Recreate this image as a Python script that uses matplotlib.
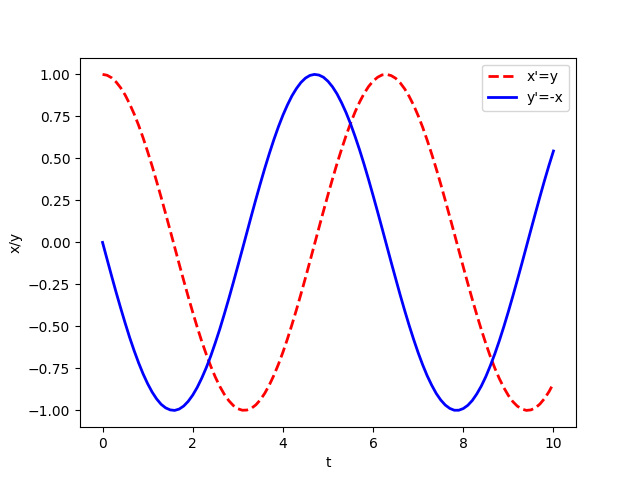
import matplotlib
matplotlib.use("Agg")
import matplotlib.pyplot as plt

# time samples read along the x axis (0 to 10, step 0.1)
t = [round(0.1 * k, 1) for k in range(101)]

# red dashed curve (x'=y)
x_vals = [1.000, 0.995, 0.980, 0.955, 0.921, 0.878, 0.825, 0.765, 0.697, 0.622,
          0.540, 0.454, 0.362, 0.268, 0.170, 0.071, -0.029, -0.129, -0.227, -0.323,
          -0.416, -0.505, -0.589, -0.666, -0.737, -0.801, -0.857, -0.904, -0.942, -0.971,
          -0.990, -0.999, -0.998, -0.988, -0.967, -0.937, -0.897, -0.848, -0.791, -0.726,
          -0.654, -0.575, -0.490, -0.401, -0.307, -0.211, -0.112, -0.012, 0.088, 0.187,
          0.284, 0.378, 0.469, 0.554, 0.635, 0.709, 0.776, 0.835, 0.886, 0.928,
          0.960, 0.983, 0.997, 1.000, 0.993, 0.977, 0.950, 0.914, 0.869, 0.816,
          0.754, 0.685, 0.608, 0.526, 0.439, 0.347, 0.251, 0.153, 0.054, -0.046,
          -0.146, -0.244, -0.339, -0.431, -0.519, -0.602, -0.679, -0.749, -0.811, -0.865,
          -0.911, -0.948, -0.975, -0.992, -1.000, -0.997, -0.985, -0.962, -0.930, -0.889,
          -0.839]

# blue solid curve (y'=-x)
y_vals = [0.000, -0.100, -0.199, -0.296, -0.389, -0.479, -0.565, -0.644, -0.717, -0.783,
          -0.841, -0.891, -0.932, -0.964, -0.985, -0.997, -1.000, -0.992, -0.974, -0.946,
          -0.909, -0.863, -0.808, -0.746, -0.676, -0.598, -0.516, -0.427, -0.335, -0.239,
          -0.141, -0.042, 0.058, 0.158, 0.256, 0.351, 0.443, 0.530, 0.612, 0.688,
          0.757, 0.818, 0.872, 0.916, 0.952, 0.978, 0.994, 1.000, 0.996, 0.983,
          0.959, 0.926, 0.884, 0.832, 0.773, 0.706, 0.631, 0.551, 0.465, 0.374,
          0.279, 0.182, 0.083, -0.017, -0.117, -0.215, -0.312, -0.405, -0.494, -0.578,
          -0.657, -0.729, -0.794, -0.850, -0.899, -0.938, -0.968, -0.988, -0.999, -0.999,
          -0.989, -0.970, -0.941, -0.902, -0.855, -0.799, -0.734, -0.663, -0.585, -0.501,
          -0.412, -0.319, -0.223, -0.125, -0.025, 0.075, 0.174, 0.272, 0.367, 0.458,
          0.544]

plt.figure(figsize=(6.4, 4.8), dpi=100)
plt.plot(t, x_vals, 'r--', linewidth=2, label="x'=y")
plt.plot(t, y_vals, 'b-', linewidth=2, label="y'=-x")
plt.xlabel('t')
plt.ylabel('x/y')
plt.legend(loc='upper right')
plt.savefig('out.png', dpi=100)
